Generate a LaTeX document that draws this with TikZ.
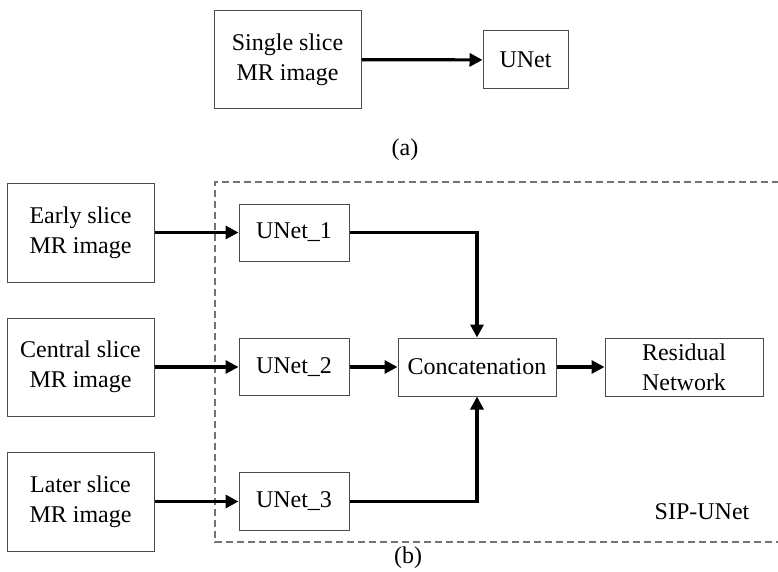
\documentclass[tikz,border=0pt]{standalone}
\usepackage{fontspec}
\setmainfont{Liberation Serif}
\usetikzlibrary{arrows.meta}
\begin{document}
\begin{tikzpicture}[x=1pt,y=-1pt,
  box/.style={draw=black!70,line width=1pt,align=center,inner sep=0pt,
    font=\fontsize{24}{30}\selectfont},
  flow/.style={line width=3.2pt,-{Triangle[length=13pt,width=13pt]}},
  lbl/.style={font=\fontsize{24}{30}\selectfont,inner sep=0pt}]
\useasboundingbox (0,0) rectangle (778,572);

% (a) single slice pipeline
\node[box,minimum width=147pt,minimum height=98pt] (single) at (287.5,59.5) {Single slice\\MR image};
\node[box,minimum width=85pt,minimum height=58pt] (unet) at (525.5,60) {UNet};
\draw[flow] (single) -- (unet);
\node[lbl] (la) at (405,150) {(a)};

% (b) SIP-UNet frame, open on the right
\draw[black!55,line width=1.3pt,dash pattern=on 7pt off 4pt]
  (779,182) -- (215,182) -- (215,542) -- (779,542);
\node[lbl] (sip) at (702,512) {SIP-UNet};
\node[lbl] (lb) at (408,558) {(b)};

% inputs
\node[box,minimum width=147pt,minimum height=99pt] (early) at (80.5,232.5) {Early slice\\MR image};
\node[box,minimum width=147pt,minimum height=98pt] (central) at (80.5,367) {Central slice\\MR image};
\node[box,minimum width=147pt,minimum height=99pt] (later) at (80.5,501.5) {Later slice\\MR image};

% UNets
\node[box,minimum width=110pt,minimum height=57pt] (u1) at (294,232.5) {UNet\_1};
\node[box,minimum width=110pt,minimum height=57pt] (u2) at (294,367) {UNet\_2};
\node[box,minimum width=110pt,minimum height=58pt] (u3) at (294,501.5) {UNet\_3};

% fusion and head
\node[box,minimum width=158pt,minimum height=58pt] (concat) at (477,367) {Concatenation};
\node[box,minimum width=158pt,minimum height=58pt] (res) at (684,367) {Residual\\Network};

\draw[flow] (early) -- (u1);
\draw[flow] (central) -- (u2);
\draw[flow] (later) -- (u3);
\draw[flow] (u2) -- (concat);
\draw[flow] (u1.east) -| (concat.north);
\draw[flow] (u3.east) -| (concat.south);
\draw[flow] (concat) -- (res);
\end{tikzpicture}
\end{document}
